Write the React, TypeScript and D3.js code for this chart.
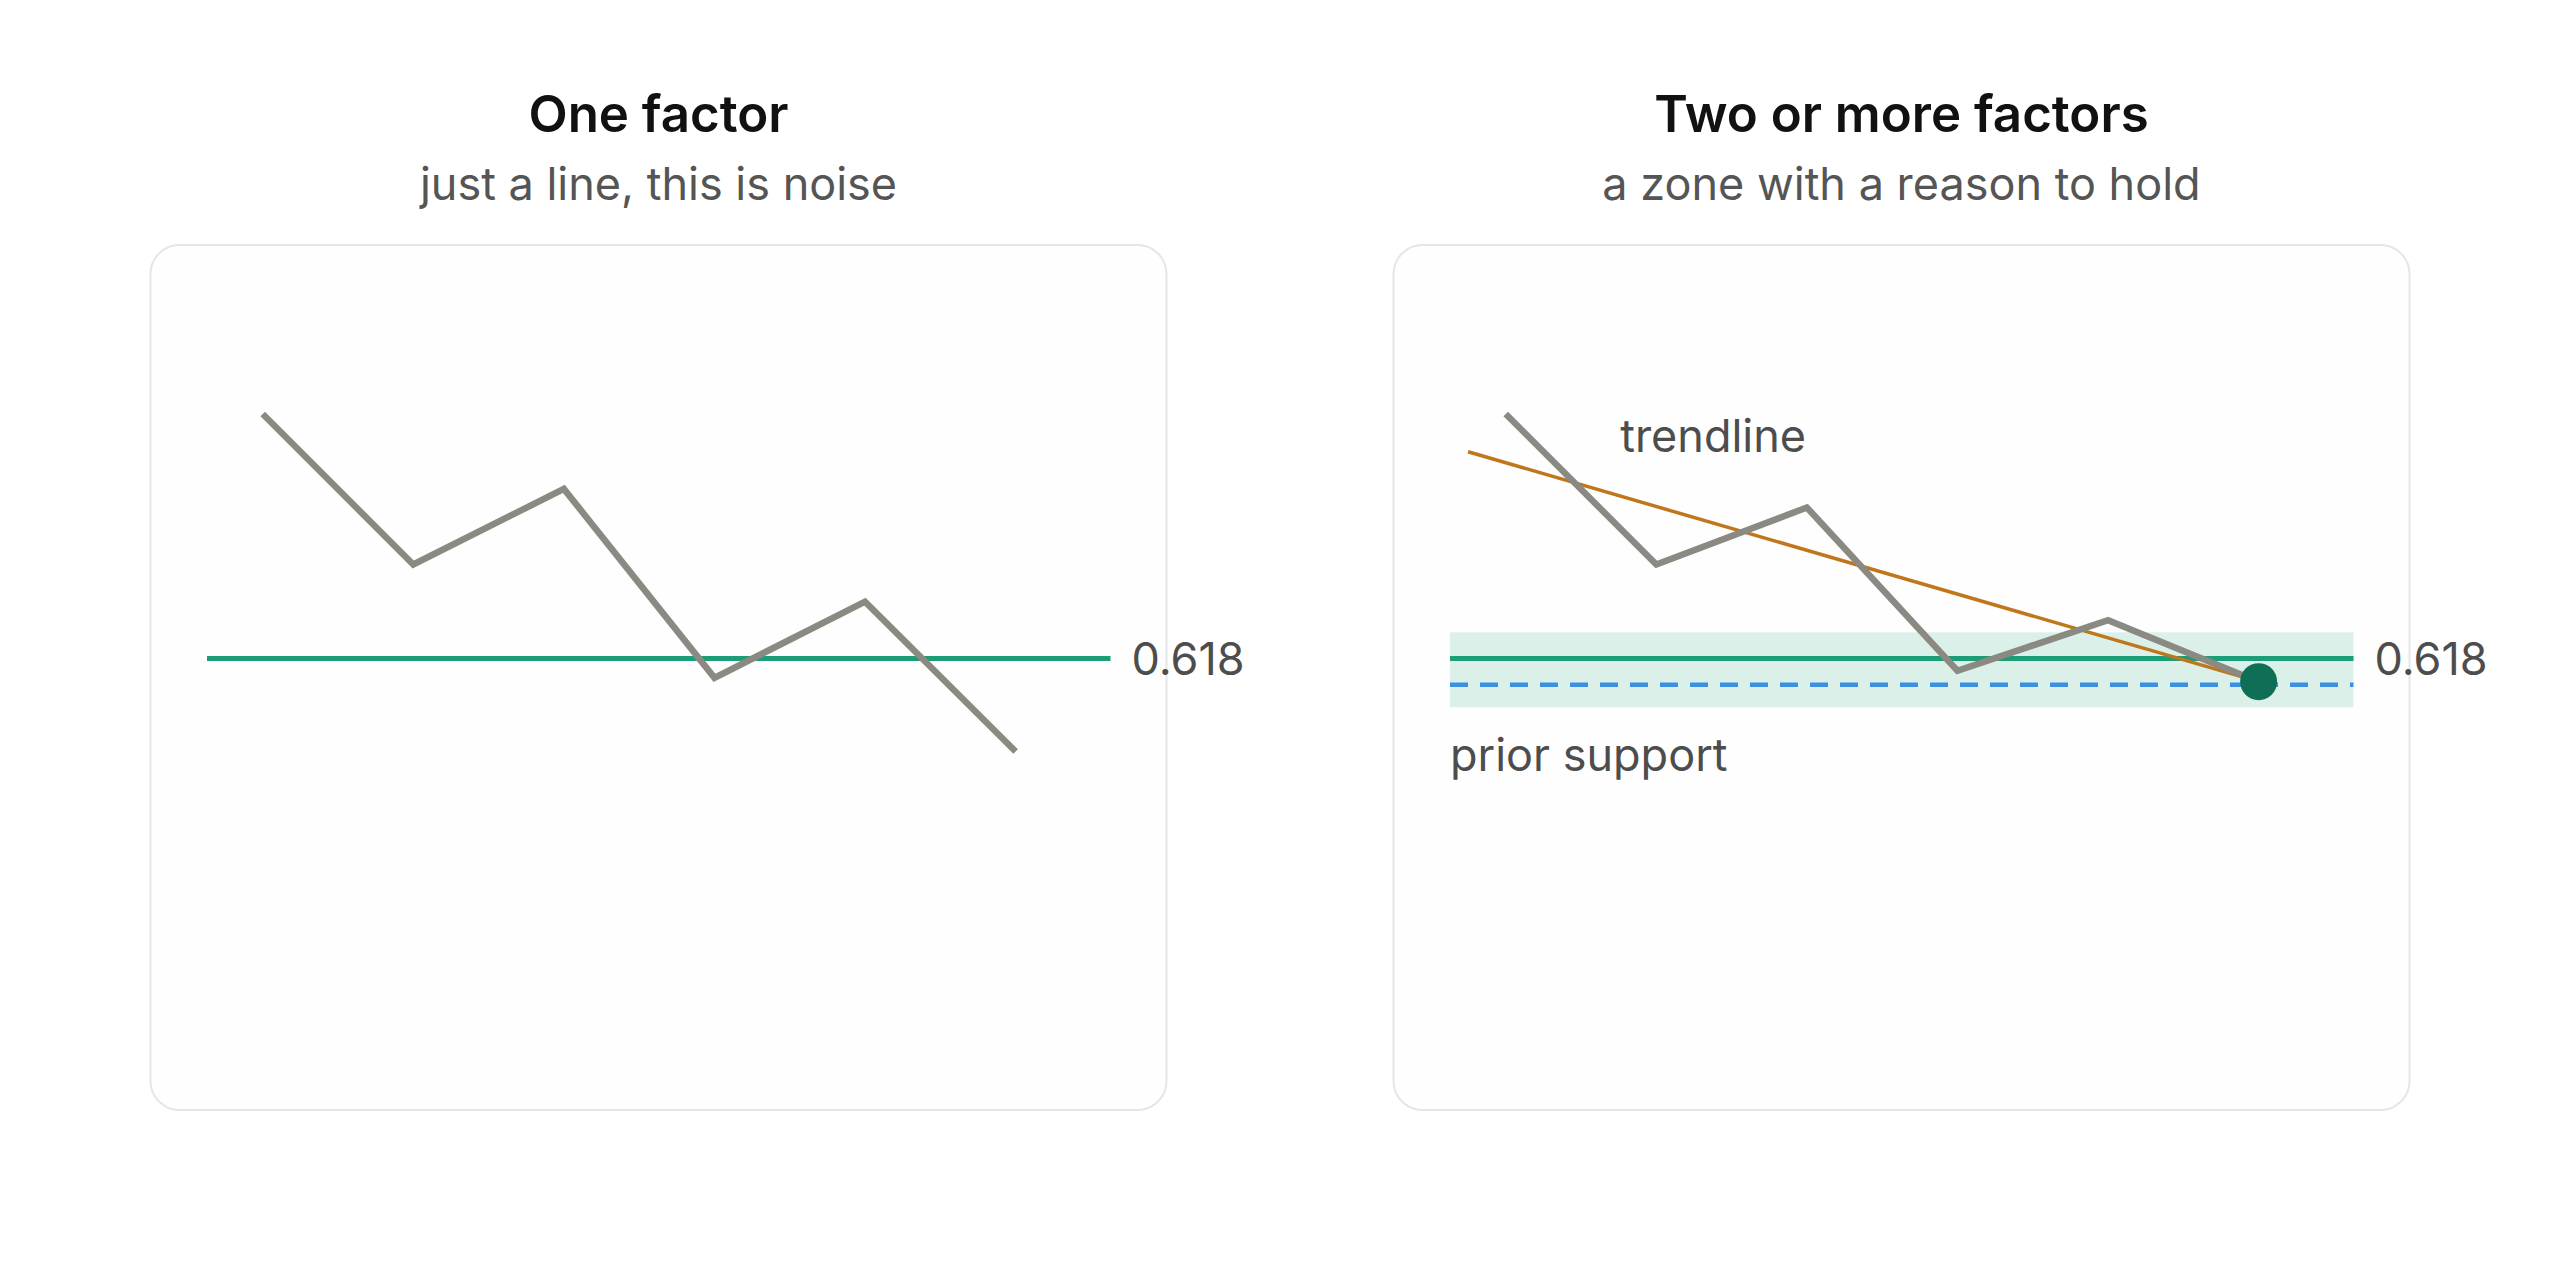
import React from 'react'
import * as d3 from 'd3'

// price path, sampled at six steps, for each panel
const steps = [0, 1, 2, 3, 4, 5]
const oneFactorPrice = [1.0, 0.765, 0.883, 0.588, 0.707, 0.473]
const multiFactorPrice = [1.0, 0.765, 0.854, 0.599, 0.678, 0.582]

// confluence pieces
const fibLevel = 0.618
const fibLabel = '0.618'
const zone = [0.542, 0.659]
const priorSupport = 0.577
const trendX = [-0.25, 5]
const trendY = [0.941, 0.582]

const panelTitles = ['One factor', 'Two or more factors']
const panelSubtitles = ['just a line, this is noise', 'a zone with a reason to hold']

const W = 2560
const H = 1280
const panelW = 1016
const panelH = 865
const panelTop = 245
const panelLefts = [150.5, 1393.5]

const FONT = "Inter, 'Noto Sans', sans-serif"

const x = d3.scaleLinear().domain([-0.37, 5.63]).range([56.5, 960])
const y = d3.scaleLinear().domain([0, 1]).range([809.3, 169])

const priceLine = d3.line<number>()
  .x((_, i) => x(steps[i]))
  .y(d => y(d))

const Panel: React.FC<{ idx: number }> = ({ idx }) => {
  const left = panelLefts[idx]
  const cx = panelW / 2
  const multi = idx === 1
  const prices = multi ? multiFactorPrice : oneFactorPrice
  const [x0, x1] = x.domain()
  const last = prices.length - 1

  return (
    <g transform={`translate(${left},0)`}>
      <text x={cx} y={132} textAnchor="middle" fontFamily={FONT} fontSize={51} fontWeight={600} fill="#111">
        {panelTitles[idx]}
      </text>
      <text x={cx} y={199.5} textAnchor="middle" fontFamily={FONT} fontSize={45} fill="#555">
        {panelSubtitles[idx]}
      </text>
      <g transform={`translate(0,${panelTop})`}>
        <rect width={panelW} height={panelH} rx={29} fill="#fefefe" stroke="#e6e6e6" strokeWidth={2} />
        {multi && (
          <rect x={x(x0)} y={y(zone[1])} width={x(x1) - x(x0)} height={y(zone[0]) - y(zone[1])}
            fill="#1b9e77" fillOpacity={0.15} />
        )}
        <line x1={x(x0)} x2={x(x1)} y1={y(fibLevel)} y2={y(fibLevel)} stroke="#1b9e77" strokeWidth={5} />
        {multi && (
          <line x1={x(x0)} x2={x(x1)} y1={y(priorSupport)} y2={y(priorSupport)}
            stroke="#3d8fe0" strokeWidth={4.5} strokeDasharray="18 12" />
        )}
        <text x={x(x1) + 21} y={y(fibLevel)} dy="0.36em" fontFamily={FONT} fontSize={45} fill="#4d4d4d">
          {fibLabel}
        </text>
        {multi && (
          <line x1={x(trendX[0])} y1={y(trendY[0])} x2={x(trendX[1])} y2={y(trendY[1])}
            stroke="#c0761a" strokeWidth={3.5} />
        )}
        <path d={priceLine(prices) ?? ''} fill="none" stroke="#8a8a82" strokeWidth={6.5} strokeLinejoin="miter" />
        {multi && (
          <>
            <circle cx={x(steps[last])} cy={y(prices[last])} r={18.5} fill="#0f6e56" />
            <text x={x(0.76)} y={y(trendY[0])} fontFamily={FONT} fontSize={45} fill="#4d4d4d">trendline</text>
            <text x={x(x0)} y={y(zone[0]) + 64} fontFamily={FONT} fontSize={45} fill="#4d4d4d">prior support</text>
          </>
        )}
      </g>
    </g>
  )
}

export default function App() {
  return (
    <div style={{ position: 'fixed', left: 0, top: 0, width: W, height: H, background: '#fff' }}>
      <svg width={W} height={H} viewBox={`0 0 ${W} ${H}`}>
        <rect width={W} height={H} fill="#fff" />
        {panelTitles.map((_, i) => <Panel key={i} idx={i} />)}
      </svg>
    </div>
  )
}
